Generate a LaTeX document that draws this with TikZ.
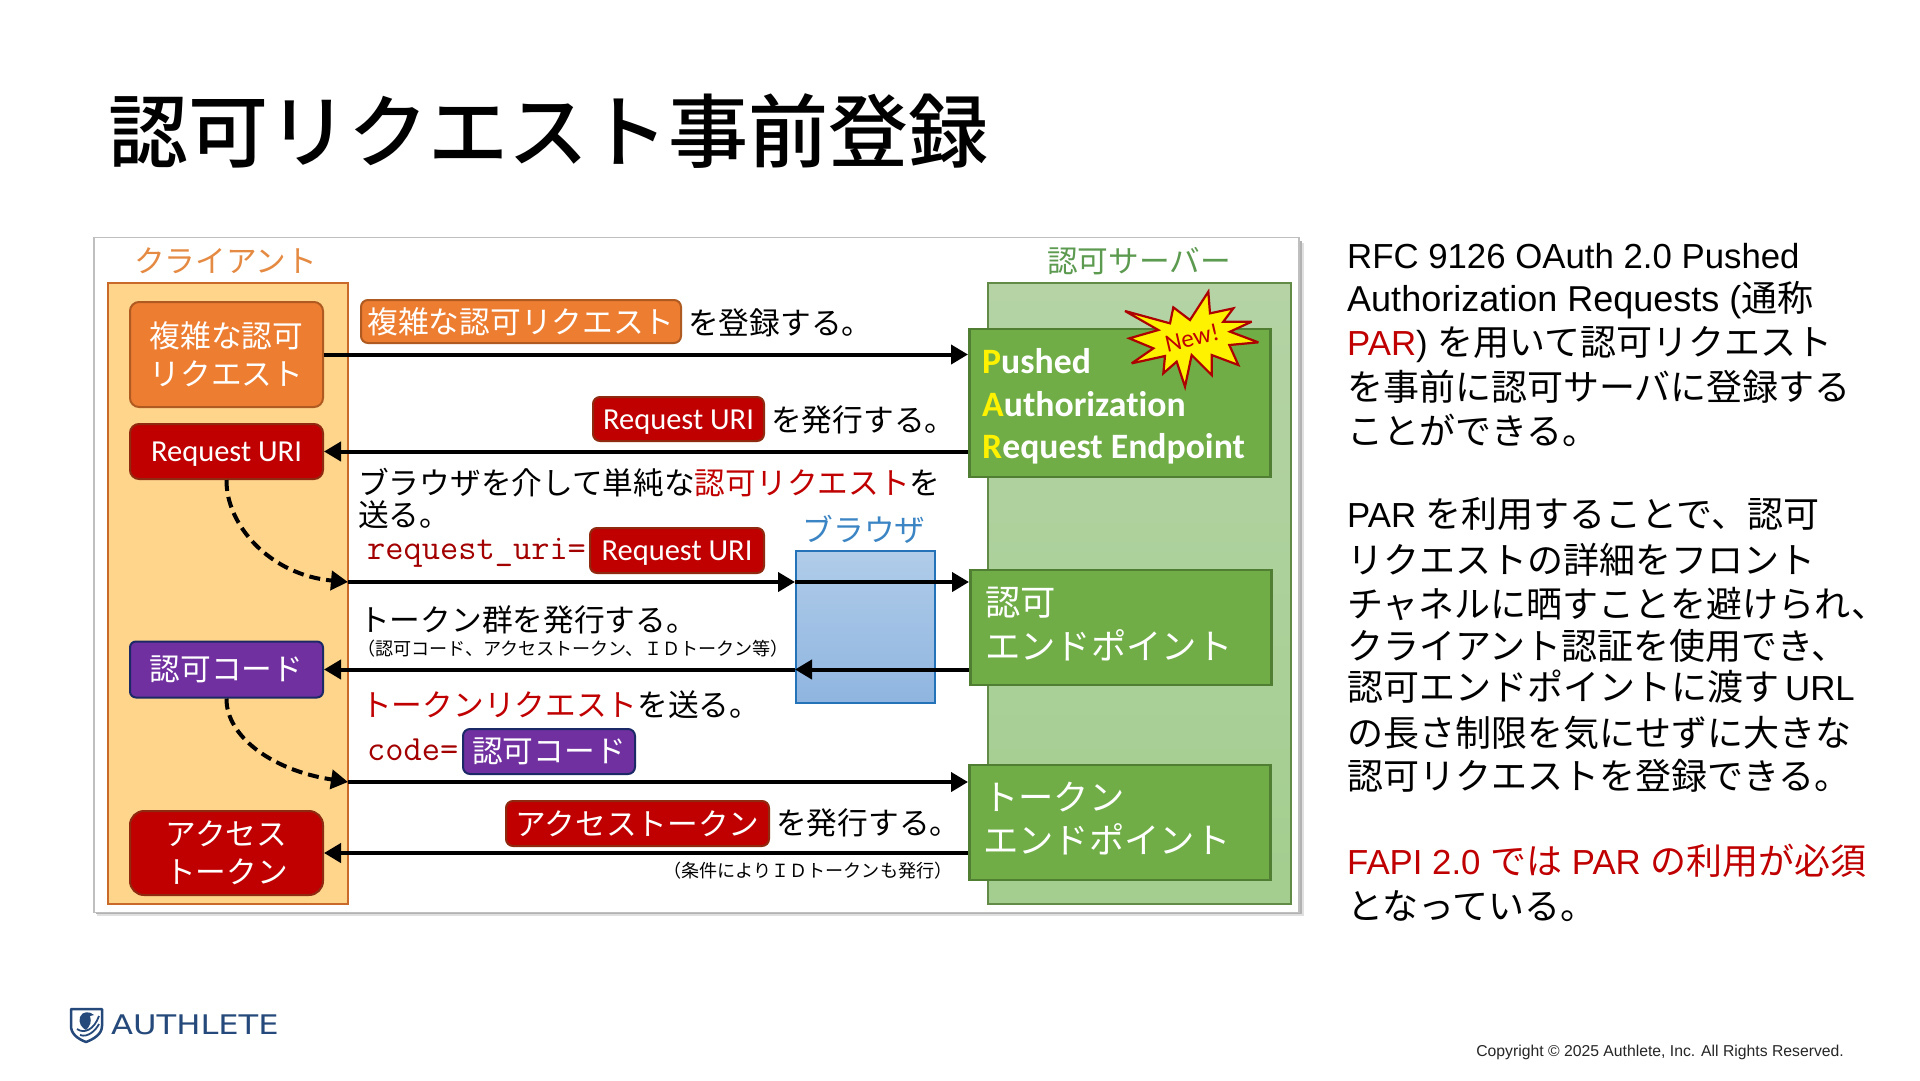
\documentclass[tikz,border=0pt]{standalone}
\usepackage{fontspec}
\setmainfont{Noto Sans CJK JP}
\newfontfamily\titlef{Noto Sans CJK JP Medium}
\newfontfamily\lat{Liberation Sans}[Scale=0.966]
\newfontfamily\latw{Liberation Sans}
\newfontfamily\calf{Carlito}[Ligatures=NoCommon]
\newfontfamily\logof{DejaVu Sans}
\usetikzlibrary{arrows.meta}
\definecolor{orangeF}{HTML}{ED7D31}
\definecolor{orangeD}{HTML}{AE5A21}
\definecolor{orangeT}{HTML}{E58A42}
\definecolor{redF}{HTML}{C00000}
\definecolor{redD}{HTML}{8F2A10}
\definecolor{purF}{HTML}{7030A0}
\definecolor{navyD}{HTML}{1B2A66}
\definecolor{grF}{HTML}{70AD47}
\definecolor{grD}{HTML}{507E32}
\definecolor{grT}{HTML}{5C9A50}
\definecolor{grTop}{HTML}{B5D3A5}
\definecolor{grBot}{HTML}{A3CE8F}
\definecolor{cliF}{HTML}{FFD58C}
\definecolor{blT}{HTML}{3C85C4}
\definecolor{blD}{HTML}{2473B8}
\definecolor{blTop}{HTML}{B0CCE9}
\definecolor{blBot}{HTML}{8FB5E0}
\definecolor{logoB}{HTML}{24497A}
\newcommand{\fs}[1]{\fontsize{#1}{#1}\selectfont}
\newcommand{\lowr}[1]{\raisebox{-10pt}[0pt][0pt]{#1}}
\tikzset{
  rbox/.style={rounded corners=9pt,line width=2pt,align=center,text=white,inner sep=0pt,minimum width=193pt},
  tagbox/.style={rounded corners=7pt,line width=2pt,text=white,inner sep=0pt,font=\fs{30.7}},
  orangeb/.style={fill=orangeF,draw=orangeD},
  redb/.style={fill=redF,draw=redD},
  purb/.style={fill=purF,draw=navyD},
  uritext/.style={font=\calf\fs{30.5}},
  epbox/.style={fill=grF,draw=grD,line width=2.5pt,inner sep=0pt,anchor=north west,text=white},
  lab/.style={anchor=west,inner sep=0pt},
  txt/.style={lab,font=\fs{30.7}},
  small/.style={lab,font=\fs{18.1}},
  rt/.style={lab,font=\fs{36}},
  mono/.style={lab,font=\ttfamily\fs{35.4},text=redF!85!black},
  arr/.style={line width=4pt,-{Triangle[length=17pt,width=19pt]}},
  dasharr/.style={arr,dash pattern=on 11pt off 6pt},
}
\begin{document}
\begin{tikzpicture}[x=1pt,y=-1pt]
\useasboundingbox (0,0) rectangle (1920,1080);
\fill[white] (0,0) rectangle (1920,1080);
% title
\node[lab,font=\titlef\fs{80}] (title) at (108,131) {認可リクエスト事前登録};
% panel
\fill[black!12] (97,243) rectangle (1304,916);
\fill[black!30] (96,241) rectangle (1302,914);
\node[fill=white,draw=black!25,line width=1.5pt,anchor=north west,minimum width=1205pt,minimum height=675pt,inner sep=0pt] (panel) at (93,236.5) {};
% lanes
\node[fill=cliF,draw=orangeF!85!black,line width=2pt,anchor=north west,minimum width=240pt,minimum height=621pt,inner sep=0pt] (client) at (107,282) {};
\node[top color=grTop,bottom color=grBot,draw=grD!90!white,line width=2pt,anchor=north west,minimum width=303pt,minimum height=621pt,inner sep=0pt] (server) at (987,282) {};
\node[font=\fs{30.7},text=orangeT] (clientlab) at (225.5,261) {クライアント};
\node[font=\fs{30.7},text=grT] (serverlab) at (1139,261) {認可サーバー};
% browser
\node[top color=blTop,bottom color=blBot,draw=blD,line width=2pt,anchor=north west,minimum width=139pt,minimum height=152pt,inner sep=0pt] (browser) at (795,550) {};
\node[font=\fs{30.7},text=blT] (browserlab) at (864,529) {ブラウザ};
% client boxes
\node[rbox,orangeb,minimum height=105pt,font=\fs{30.7}] (cplx) at (226.5,354.5) {複雑な認可\\[7pt]リクエスト};
\node[rbox,redb,minimum height=55pt,uritext] (uri) at (226.5,451.5) {\lowr{Request URI}};
\node[rbox,purb,rounded corners=6pt,minimum height=56pt,font=\fs{30.7}] (code) at (226.5,669.5) {認可コード};
\node[rbox,redb,rounded corners=14pt,minimum height=84pt,font=\fs{30.7}] (atk) at (226.5,853) {アクセス\\[7pt]トークン};
% endpoints
\node[epbox,minimum width=301pt,minimum height=148pt] (parep) at (968,327.5) {};
\node[epbox,minimum width=301pt,minimum height=115pt] (authep) at (969,568.5) {};
\node[epbox,minimum width=301pt,minimum height=115pt] (tokep) at (968,763.5) {};
\node[lab,text=white,font=\calf\bfseries\fs{35.7}] (par1) at (982,361) {\textcolor{yellow}{P}ushed};
\node[lab,text=white,font=\calf\bfseries\fs{35.7}] (par2) at (982,404) {\textcolor{yellow}{A}uthorization};
\node[lab,text=white,font=\calf\bfseries\fs{35.7}] (par3) at (982,449) {\textcolor{yellow}{R}equest Endpoint};
\node[lab,text=white,font=\fs{35.3}] (auth1) at (985,603) {認可};
\node[lab,text=white,font=\fs{35.3}] (auth2) at (985,645) {エンドポイント};
\node[lab,text=white,font=\fs{35.3}] (tok1) at (983,797) {トークン};
\node[lab,text=white,font=\fs{35.3}] (tok2) at (983,839) {エンドポイント};
% star
\begin{scope}[shift={(1110,280)},x=0.33333pt,y=-0.33333pt]
\filldraw[fill=yellow,draw=redF!90!black,line width=2.2pt,line join=miter,miter limit=4]
 (295,35)--(300,100)--(370,85)--(340,125)--(425,125)--(360,155)--(445,187)--(358,195)--(385,255)--(305,225)--(305,285)--(245,225)--(225,320)--(200,245)--(160,280)--(165,228)--(65,250)--(130,205)--(58,175)--(145,150)--(45,93)--(180,130)--(190,82)--(240,120)--cycle;
\end{scope}
\node[font=\calf\fs{25},text=redF,rotate=13,inner sep=0pt] (newlab) at (1192,338) {New!};
% tags and labels
\node[tagbox,orangeb,minimum width=320pt,minimum height=43pt] (tag1) at (521,321.5) {複雑な認可リクエスト};
\node[txt] (t1) at (688,323) {を登録する。};
\node[tagbox,redb,minimum width=171pt,minimum height=44pt,uritext] (tag2) at (678.5,419) {\lowr{Request URI}};
\node[txt] (t2) at (771,420) {を発行する。};
\node[txt] (t3) at (358,483) {ブラウザを介して単純な\textcolor{redF}{認可リクエスト}を};
\node[txt] (t3b) at (358,515) {送る。};
\node[mono] (t4) at (367,553) {request\_uri=};
\node[tagbox,redb,minimum width=174pt,minimum height=45pt,uritext] (tag3) at (677,550.5) {\lowr{Request URI}};
\node[txt] (t5) at (359,620) {トークン群を発行する。};
\node[small] (t6) at (357,649) {（認可コード、アクセストークン、ＩＤトークン等）};
\node[txt] (t7) at (361,705) {\textcolor{redF}{トークンリクエスト}を送る。};
\node[mono] (t8) at (367,750) {code=};
\node[tagbox,purb,minimum width=172pt,minimum height=45pt] (tag4) at (549,751.5) {認可コード};
\node[tagbox,redb,minimum width=263pt,minimum height=45pt] (tag5) at (637.5,823.5) {アクセストークン};
\node[txt] (t9) at (776,823) {を発行する。};
\node[small] (t10) at (663,871) {（条件によりＩＤトークンも発行）};
% connector anchors
\coordinate (a3) at (348,582);
\coordinate (a7) at (348,782);
% arrows
\draw[arr] (cplx.east) -- (cplx.east -| parep.west);
\draw[arr] (uri.east -| parep.west) -- (uri.east);
\draw[arr] (a3) -- (a3 -| browser.west);
\draw[arr] (a3 -| browser.west) -- (a3 -| authep.west);
\draw[arr] (code.east -| authep.west) -- (code.east -| browser.west);
\draw[arr] (code.east -| browser.west) -- (code.east);
\draw[arr] (a7) -- (a7 -| tokep.west);
\draw[arr] (atk.east -| tokep.west) -- (atk.east);
\draw[dasharr] (uri.south) .. controls (226,525) and (270,575) .. (a3);
\draw[dasharr] (code.south) .. controls (226,735) and (270,770) .. (a7);
% right text
\node[rt] (r1) at (1347,256) {\lat RFC 9126 OAuth 2.0 Pushed};
\node[rt] (r2) at (1347,300) {{\latw Authorization Requests (}通称};
\node[rt] (r3) at (1347,345) {{\lat\textcolor{redF}{PAR}) }を用いて認可リクエスト};
\node[rt] (r4) at (1347,387) {を事前に認可サーバに登録する};
\node[rt] (r5) at (1347,430) {ことができる。};
\node[rt] (r6) at (1347,514) {{\lat PAR }を利用することで、認可};
\node[rt] (r7) at (1347,560) {リクエストの詳細をフロント};
\node[rt] (r8) at (1347,604) {チャネルに晒すことを避けられ、};
\node[rt] (r9) at (1347,646) {クライアント認証を使用でき、};
\node[rt] (r10) at (1347,687) {認可エンドポイントに渡す\hspace{6pt}{\lat URL}};
\node[rt] (r11) at (1347,733) {の長さ制限を気にせずに大きな};
\node[rt] (r12) at (1347,776) {認可リクエストを登録できる。};
\node[rt,text=redF] (r13) at (1347,861) {{\lat FAPI 2.0 }では{\lat\ PAR }の利用が必須};
\node[rt] (r14) at (1347,906) {となっている。};
% logo
\draw[logoB,line width=2.5pt,line join=round] (71,1009) -- (102,1009) -- (102,1026) .. controls (102,1034) and (94,1039) .. (86,1042) .. controls (78,1039) and (71,1034) .. (71,1026) -- cycle;
\fill[logoB] (80,1017) .. controls (82,1011) and (90,1011) .. (94,1015) -- (90,1016) .. controls (92,1022) and (90,1026) .. (86,1030) .. controls (82,1028) and (78,1023) .. (80,1017) -- cycle;
\draw[logoB,line width=1.8pt] (77,1029) .. controls (84,1034) and (94,1030) .. (99,1016);
\draw[logoB,line width=1.8pt] (80,1035) .. controls (88,1038) and (96,1030) .. (99,1024);
\node[lab,font=\logof\fs{27},text=logoB,xscale=1.19] (logo) at (111,1025) {AUTHLETE};
% copyright
\node[anchor=east,inner sep=0pt,font=\lat\fs{16.3},text=black!85] (copy) at (1844,1052) {Copyright © 2025 Authlete, Inc. All Rights Reserved.};
\end{tikzpicture}
\end{document}
